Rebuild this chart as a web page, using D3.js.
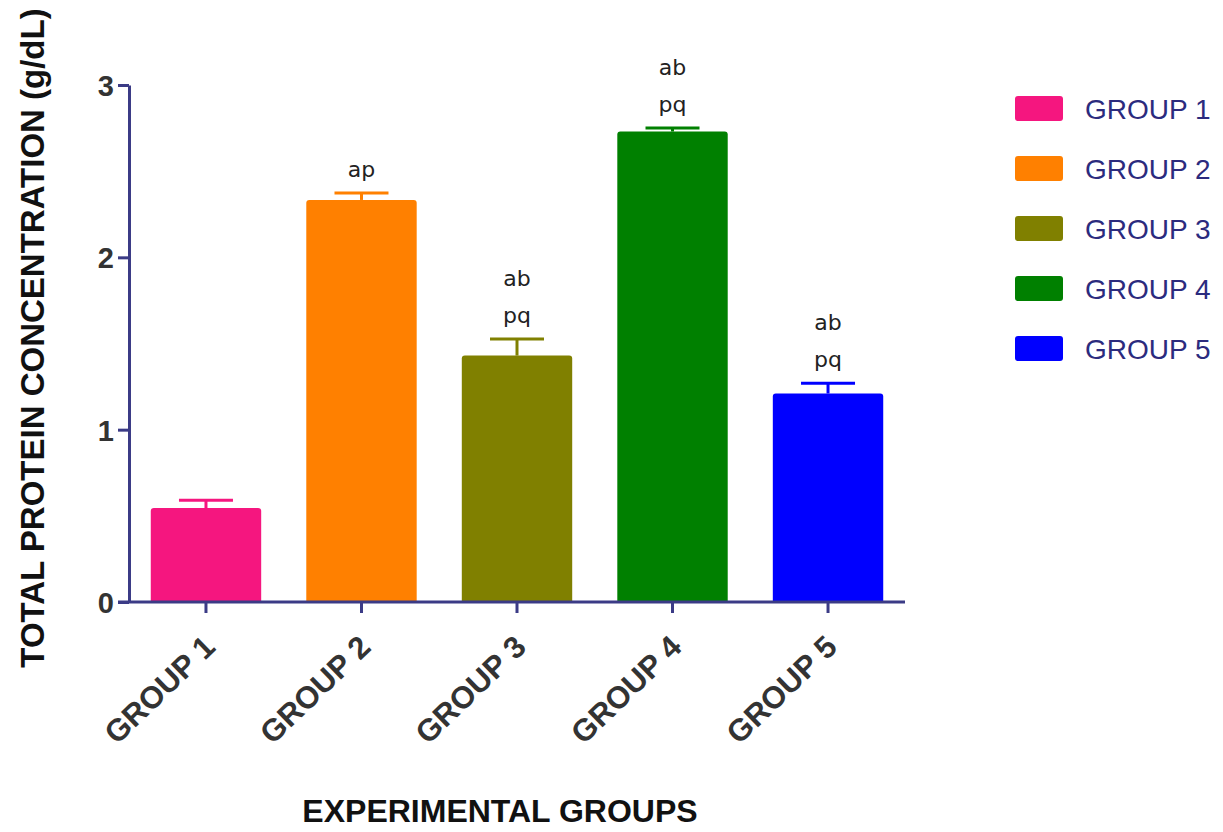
<!DOCTYPE html>
<html><head><meta charset="utf-8">
<script src="https://cdn.jsdelivr.net/npm/d3@7"></script>
<style>body{margin:0;background:#fff}</style>
</head><body>
<svg id="c" width="1223" height="832"></svg>
<script>
const categories = ["GROUP 1","GROUP 2","GROUP 3","GROUP 4","GROUP 5"];
const means = [0.545, 2.333, 1.43, 2.73, 1.21];
const errors = [0.045, 0.04, 0.096, 0.02, 0.06];
const annotations = [[], ["ap"], ["ab","pq"], ["ab","pq"], ["ab","pq"]];
const colors = ["#f5167f","#ff8000","#808000","#008000","#0000ff"];
const yTicks = [0,1,2,3];

const svg = d3.select("#c");
const axisColor = "#3b3b86";
const font = "Liberation Sans, Arial, sans-serif";
const y = d3.scaleLinear().domain([0,3]).range([602,85]);
const x = d3.scaleBand().domain(categories).range([129,905]).paddingInner(0.29).paddingOuter(0.14);

categories.forEach((c,i)=>{
  const x0 = x(c), w = x.bandwidth(), yt = y(means[i]), yb = y(0), r=3;
  svg.append("path")
    .attr("d", `M${x0},${yb} L${x0},${yt+r} Q${x0},${yt} ${x0+r},${yt} L${x0+w-r},${yt} Q${x0+w},${yt} ${x0+w},${yt+r} L${x0+w},${yb} Z`)
    .attr("fill", colors[i]);
  const cx = x0 + w/2, ye = y(means[i]+errors[i]);
  svg.append("line").attr("x1",cx).attr("x2",cx).attr("y1",yt).attr("y2",ye)
    .attr("stroke",colors[i]).attr("stroke-width",3);
  svg.append("line").attr("x1",cx-27).attr("x2",cx+27).attr("y1",ye).attr("y2",ye)
    .attr("stroke",colors[i]).attr("stroke-width",3);
  const ann = annotations[i];
  ann.forEach((t,k)=>{
    const base = ye - 16 - (ann.length-1-k)*37;
    svg.append("text").attr("x",cx).attr("y",base).attr("text-anchor","middle")
      .attr("font-family","DejaVu Sans, Verdana, sans-serif").attr("font-size",22)
      .attr("fill","#222").text(t);
  });
});

// y axis
const yAxis = svg.append("g").attr("transform","translate(129,0)")
  .call(d3.axisLeft(y).tickValues(yTicks).tickFormat(d3.format("d")).tickSize(11).tickSizeOuter(0));
yAxis.select(".domain").attr("stroke",axisColor).attr("stroke-width",3);
yAxis.selectAll(".tick line").attr("stroke",axisColor).attr("stroke-width",3);
yAxis.selectAll(".tick text").attr("font-family",font)
  .attr("font-weight","bold").attr("font-size",29).attr("fill","#333").attr("x",-15).attr("dy","0.36em");

// x axis
const xAxis = svg.append("g").attr("transform","translate(0,602)")
  .call(d3.axisBottom(x).tickSize(11).tickSizeOuter(0));
xAxis.select(".domain").attr("stroke",axisColor).attr("stroke-width",3).attr("d","M118,0H905");
xAxis.selectAll(".tick line").attr("stroke",axisColor).attr("stroke-width",3);
xAxis.selectAll(".tick text")
  .attr("font-family",font).attr("font-weight","bold")
  .attr("font-size",31).attr("fill","#333")
  .attr("text-anchor","end").attr("dy","0").attr("y",0)
  .attr("transform","translate(11,47) rotate(-44)");

// axis titles
svg.append("text").attr("transform","translate(44,338) rotate(-90)")
  .attr("text-anchor","middle").attr("font-family",font)
  .attr("font-weight","bold").attr("font-size",33).attr("fill","#111")
  .text("TOTAL PROTEIN CONCENTRATION (g/dL)");
svg.append("text").attr("x",500).attr("y",822).attr("text-anchor","middle")
  .attr("font-family",font)
  .attr("font-weight","bold").attr("font-size",32).attr("fill","#111")
  .text("EXPERIMENTAL GROUPS");

// legend
const lg = svg.append("g");
categories.forEach((c,i)=>{
  const yy = 96 + i*60;
  lg.append("rect").attr("x",1015).attr("y",yy).attr("width",48).attr("height",25)
    .attr("rx",3).attr("fill",colors[i]);
  lg.append("text").attr("x",1085).attr("y",yy+23)
    .attr("font-family",font).attr("font-size",28)
    .attr("fill","#2b2b7e").text(c);
});
</script>
</body></html>
